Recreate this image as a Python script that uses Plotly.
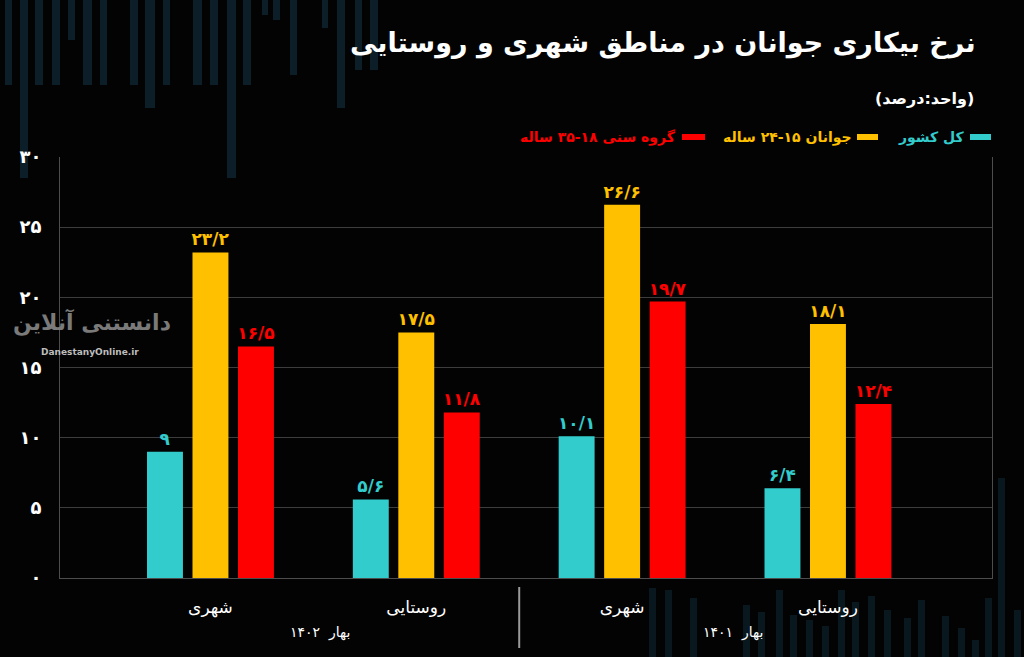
import plotly.graph_objects as go

# data
categories = ['شهری', 'روستایی', 'شهری', 'روستایی']
periods = ['بهار  ۱۴۰۲', 'بهار  ۱۴۰۱']
series_names = ['کل کشور', 'جوانان ۱۵\u200f-\u200f۲۴ ساله', 'گروه سنی ۱۸\u200f-\u200f۳۵ ساله']
total = [9, 5.6, 10.1, 6.4]
youth_15_24 = [23.2, 17.5, 26.6, 18.1]
age_18_35 = [16.5, 11.8, 19.7, 12.4]
y_ticks = [0, 5, 10, 15, 20, 25, 30]

colors = ['#33CCCC', '#FFC000', '#FF0000']
FONT = 'DejaVu Sans'
W, H = 1024, 657
ML, MR, MT, MB = 60, 32, 157, 79
PW, PH = W - ML - MR, H - MT - MB


def fa(v):
    s = f'{v:g}'.replace('.', '/')
    return s.translate(str.maketrans('0123456789', '۰۱۲۳۴۵۶۷۸۹'))


def px(x):
    return (x - ML) / PW


def py(y):
    return (H - MB - y) / PH


xs = list(range(len(categories)))

fig = go.Figure()
for name, vals, col in zip(series_names, [total, youth_15_24, age_18_35], colors):
    fig.add_trace(go.Bar(
        x=xs, y=vals, name=name,
        marker=dict(color=col, line=dict(width=0)),
        text=[fa(v) for v in vals],
        textposition='outside',
        constraintext='none',
        cliponaxis=False,
        textfont=dict(family=FONT, size=17, color=col, weight='bold'),
        hoverinfo='none',
    ))

shapes = []
# decorative faint bars of the background (top left / bottom right)
bg_col = 'rgba(20,55,72,0.55)'
for x0, x1, y1 in [(5, 12, 85), (20, 28, 178), (35, 43, 85), (52, 60, 85), (68, 75, 40),
                   (83, 92, 85), (100, 107, 85), (130, 138, 85), (145, 155, 108), (163, 170, 85),
                   (193, 202, 85), (210, 218, 85), (227, 236, 178), (243, 251, 85), (262, 268, 15),
                   (273, 280, 20), (290, 297, 75), (322, 328, 28), (337, 345, 108), (355, 362, 70),
                   (370, 378, 70)]:
    shapes.append(dict(type='rect', xref='paper', yref='paper', layer='below',
                       x0=px(x0), x1=px(x1), y0=py(0), y1=py(y1),
                       fillcolor=bg_col, line=dict(width=0)))
for x0, y0 in [(649, 588), (665, 590), (690, 598), (743, 605), (758, 612), (776, 590), (790, 615),
               (806, 620), (822, 626), (838, 590), (852, 602), (868, 596), (884, 610), (904, 618),
               (918, 600), (942, 616), (958, 628), (972, 640), (985, 598), (998, 478), (1014, 610)]:
    shapes.append(dict(type='rect', xref='paper', yref='paper', layer='below',
                       x0=px(x0), x1=px(x0 + 7), y0=py(H), y1=py(y0),
                       fillcolor='rgba(20,55,72,0.4)', line=dict(width=0)))

# separator between the two periods
shapes.append(dict(type='line', xref='x', yref='paper', x0=1.5, x1=1.5,
                   y0=py(587), y1=py(648), line=dict(color='#9a9a9a', width=2)))

# legend dashes (right-to-left legend)
for x0, x1, col in [(970, 991, colors[0]), (857, 878, colors[1]), (682, 705, colors[2])]:
    shapes.append(dict(type='rect', xref='paper', yref='paper',
                       x0=px(x0), x1=px(x1), y0=py(140), y1=py(134),
                       fillcolor=col, line=dict(width=0)))

annotations = [
    dict(text='<b>نرخ بیکاری جوانان در مناطق شهری و روستایی</b>', x=px(978), y=py(43),
         xanchor='right', yanchor='middle', font=dict(family=FONT, size=27, color='white')),
    dict(text='(واحد:درصد)', x=px(976), y=py(98), xanchor='right', yanchor='middle',
         font=dict(family=FONT, size=16, color='white', weight='bold')),
    dict(text='DanestanyOnline.ir', x=px(90), y=py(352), xanchor='center', yanchor='middle',
         font=dict(family=FONT, size=9, color='#bdbdbd', weight='bold')),
    dict(text='دانستنی آنلاین', x=px(92), y=py(322), xanchor='center', yanchor='middle',
         font=dict(family=FONT, size=22, color='#7a7a7a', weight='bold')),
]
for name, right, col in zip(series_names, [967, 854, 678], colors):
    annotations.append(dict(text=name, x=px(right), y=py(137), xanchor='right', yanchor='middle',
                            font=dict(family=FONT, size=14, color=col, weight='bold')))
for label, xc in zip(periods, [0.53, 2.54]):
    annotations.append(dict(text=label, x=xc, xref='x', y=py(632), yanchor='middle',
                            xanchor='center', font=dict(family=FONT, size=14, color='white')))
for a in annotations:
    a.setdefault('xref', 'paper')
    a.setdefault('yref', 'paper')
    a['showarrow'] = False

fig.update_layout(
    width=W, height=H,
    margin=dict(l=ML, r=MR, t=MT, b=MB),
    paper_bgcolor='#030303', plot_bgcolor='#030303',
    barmode='group', bargap=0.337, bargroupgap=0.21,
    showlegend=False,
    shapes=shapes,
    annotations=annotations,
    xaxis=dict(range=[-0.731, 3.797], tickvals=xs, ticktext=categories,
               showgrid=False, zeroline=False, showline=True, linecolor='#4d4d4d',
               ticks='', ticklabelstandoff=14,
               tickfont=dict(family=FONT, size=17, color='white')),
    yaxis=dict(range=[0, 30], tickvals=y_ticks, ticktext=[fa(v) for v in y_ticks],
               showgrid=True, gridcolor='#3d3d3d', gridwidth=1, zeroline=False,
               showline=True, mirror=True, linecolor='#4d4d4d', ticks='',
               ticklabelstandoff=14,
               tickfont=dict(family=FONT, size=18, color='white', weight='bold')),
)

fig.write_html('out.html', config={'displayModeBar': False},
               post_script="document.body.style.margin='0';document.body.style.background='#030303';")
